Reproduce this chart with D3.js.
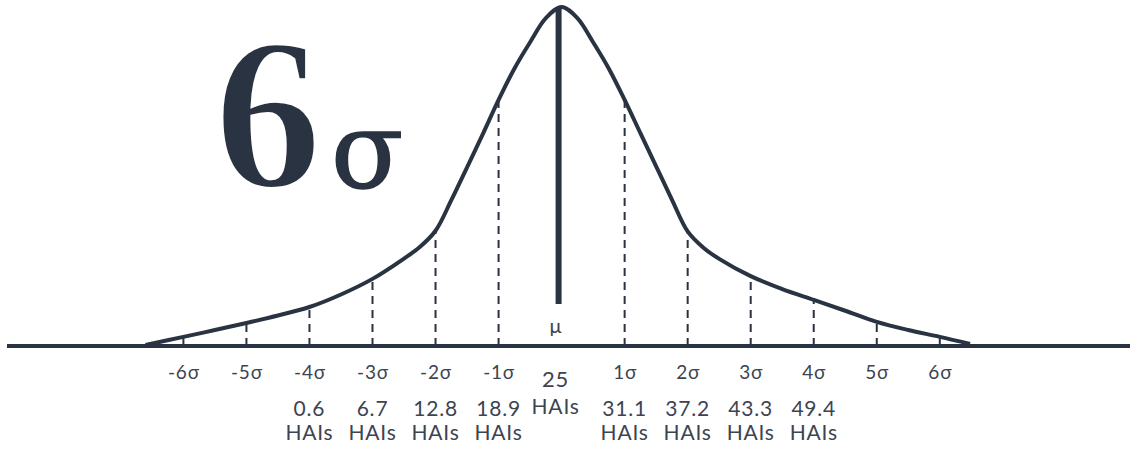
<!DOCTYPE html>
<html>
<head>
<meta charset="utf-8">
<script src="https://cdn.jsdelivr.net/npm/d3@7"></script>
<style>
  html, body { margin: 0; padding: 0; background: #fff; }
  svg { display: block; }
</style>
</head>
<body>
<svg id="chart" width="1130" height="452"></svg>
<script>
// Sigma positions shown on the axis and their labels
const sigmaTicks = [-6, -5, -4, -3, -2, -1, 0, 1, 2, 3, 4, 5, 6];
const sigmaLabels = ["-6σ", "-5σ", "-4σ", "-3σ", "-2σ", "-1σ", "", "1σ", "2σ", "3σ", "4σ", "5σ", "6σ"];

// HAI counts printed under the sigma labels
const haiSigma = [-4, -3, -2, -1, 1, 2, 3, 4];
const haiValues = ["0.6", "6.7", "12.8", "18.9", "31.1", "37.2", "43.3", "49.4"];
const meanValue = "25";
const unitLabel = "HAIs";

// Bell curve: relative density sampled along the sigma axis
const curveSigma = [-6.6, -6, -5.5, -5, -4.5, -4, -3.5, -3, -2.5, -2.25, -2, -1.75, -1.5, -1.25, -1,
                    -0.75, -0.5, -0.25, 0, 0.25, 0.5, 0.75,
                    1, 1.25, 1.5, 1.75, 2, 2.25, 2.5, 3, 3.5, 4, 4.5, 5, 5.5, 6, 6.48];
const curveDensity = [0.003, 0.027, 0.047, 0.068, 0.090, 0.115, 0.152, 0.198, 0.258, 0.292, 0.340, 0.430, 0.527, 0.625, 0.726,
                      0.818, 0.896, 0.967, 1.0, 0.967, 0.896, 0.818,
                      0.726, 0.628, 0.530, 0.432, 0.338, 0.290, 0.257, 0.206, 0.168, 0.136, 0.104, 0.071, 0.047, 0.027, 0.006];

const ink = "#2a3342";
const textInk = "#3d4451";
const labelFont = "Lato, 'Noto Sans', sans-serif";

const svg = d3.select("#chart");
const W = 1130;
const baseY = 346;

const x = d3.scaleLinear().domain([-6, 6]).range([183.4, 939.8]);
const y = d3.scaleLinear().domain([0, 1]).range([baseY, 7]);

const curvePts = curveSigma.map((s, i) => [s, curveDensity[i]]);
const densityAt = s => curveDensity[curveSigma.indexOf(s)];

// Dashed drop lines from the curve to the baseline at each sigma (not the mean)
svg.append("g")
  .selectAll("line")
  .data(sigmaTicks.filter(d => d !== 0))
  .join("line")
    .attr("x1", d => x(d)).attr("x2", d => x(d))
    .attr("y1", baseY).attr("y2", d => y(densityAt(d)))
    .attr("stroke", ink)
    .attr("stroke-width", 2)
    .attr("stroke-dasharray", "8,6");

// Baseline across the full width
svg.append("line")
  .attr("x1", 7).attr("x2", W)
  .attr("y1", baseY).attr("y2", baseY)
  .attr("stroke", ink)
  .attr("stroke-width", 4);

// Density curve
const line = d3.line()
  .x(d => x(d[0]))
  .y(d => y(d[1]))
  .curve(d3.curveCatmullRom.alpha(0.5));

svg.append("path")
  .datum(curvePts)
  .attr("d", line)
  .attr("fill", "none")
  .attr("stroke", ink)
  .attr("stroke-width", 4)
  .attr("stroke-linejoin", "round");

// Mean marker
svg.append("line")
  .attr("x1", x(0) - 3).attr("x2", x(0) - 3)
  .attr("y1", y(1)).attr("y2", 304)
  .attr("stroke", ink)
  .attr("stroke-width", 6);

svg.append("text")
  .attr("x", x(0) - 6).attr("y", 333)
  .attr("text-anchor", "middle")
  .attr("font-family", labelFont)
  .attr("font-size", 20)
  .attr("fill", textInk)
  .text("μ");

// Sigma axis labels
const axis = d3.axisBottom(x)
  .tickValues(sigmaTicks)
  .tickFormat((d, i) => sigmaLabels[i])
  .tickSize(0);

const gAxis = svg.append("g")
  .attr("transform", `translate(0,${baseY})`)
  .call(axis);
gAxis.select(".domain").remove();
gAxis.selectAll("text")
  .attr("y", 33).attr("dy", 0)
  .attr("font-family", labelFont)
  .attr("font-size", 19)
  .attr("letter-spacing", 0.8)
  .attr("fill", textInk);

// HAI values under each sigma label
const gVals = svg.append("g")
  .attr("font-family", labelFont)
  .attr("font-size", 21)
  .attr("letter-spacing", 0.8)
  .attr("fill", textInk)
  .attr("text-anchor", "middle");

gVals.selectAll("text.val")
  .data(haiSigma)
  .join("text")
    .attr("class", "val")
    .attr("x", d => x(d))
    .attr("y", 416)
    .text((d, i) => haiValues[i]);

gVals.selectAll("text.unit")
  .data(haiSigma)
  .join("text")
    .attr("class", "unit")
    .attr("x", d => x(d))
    .attr("y", 440)
    .text(unitLabel);

// Mean value label
gVals.append("text")
  .attr("x", x(0) - 6).attr("y", 387)
  .attr("font-size", 22)
  .text(meanValue);
gVals.append("text")
  .attr("x", x(0) - 6).attr("y", 414)
  .text(unitLabel);

// Title: 6σ
svg.append("text")
  .attr("x", 214).attr("y", 187)
  .attr("font-family", "'Liberation Serif', serif")
  .attr("font-size", 216)
  .attr("font-weight", "bold")
  .attr("fill", ink)
  .attr("stroke", "#fff")
  .attr("stroke-width", 4)
  .text("6");
svg.append("text")
  .attr("x", 331).attr("y", 187)
  .attr("font-family", "'DejaVu Serif', serif")
  .attr("font-size", 106)
  .attr("fill", ink)
  .attr("stroke", ink)
  .attr("stroke-width", 1.5)
  .text("σ");
</script>
</body>
</html>
